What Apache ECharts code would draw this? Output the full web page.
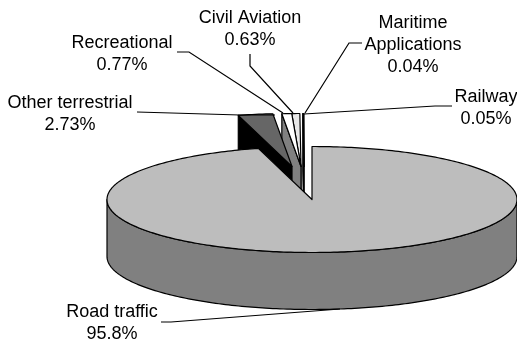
<!DOCTYPE html>
<html>
<head>
<meta charset="utf-8">
<style>html,body{margin:0;padding:0;background:#fff}#chart{width:517px;height:344px}</style>
<script src="https://cdn.jsdelivr.net/npm/echarts@6/dist/echarts.min.js"></script>
</head>
<body>
<div id="chart"></div>
<script>
// Share of satellite navigation use by application segment
const categories = ['Road traffic', 'Other terrestrial', 'Recreational', 'Civil Aviation', 'Maritime Applications', 'Railway'];
const shares = [95.8, 2.73, 0.77, 0.63, 0.04, 0.05];
const shareLabels = ['95.8%', '2.73%', '0.77%', '0.63%', '0.04%', '0.05%'];

// Tilted disc geometry
const disc = { cx: 312, cy: 199.5, rx: 205, ry: 53, depth: 57 };
// How far each slice is pulled out of the disc
const pullX = [0, -20, -11, -11, -8, -8];
const pullY = [0, -33, -33, -33, -33, -33];
const topColors = ['#bdbdbd', '#666666', '#ffffff', '#e8e8e8', '#ffffff', '#ffffff'];
const wallColors = ['#808080', '#000000', '#808080', '#808080', '#808080', '#808080'];
// Text lines, centre x, first line middle y, leader path
const labelLines = [['Road traffic'], ['Other terrestrial'], ['Recreational'], ['Civil Aviation'], ['Maritime', 'Applications'], ['Railway']];
const labelX = [112, 70, 122, 250, 413, 486];
const labelY = [312, 103, 43, 18, 23, 97];
const leaders = [
  [[161, 322], [171, 322], [340, 309]],
  [[137, 112], [240, 115], [275, 115]],
  [[177, 52], [189, 52], [283, 113]],
  [[250, 54], [250, 66], [293, 113]],
  [[362, 43], [349, 43], [305, 113]],
  [[452, 106], [435, 106], [304, 114]]
];
const LINE_HEIGHT = 22;
const FONT = '18px "Liberation Sans", Arial, sans-serif';
const STROKE = 1.2;

const total = shares.reduce((a, b) => a + b, 0);
const lineStyle = fill => ({ fill, stroke: '#000', lineWidth: STROKE, lineJoin: 'round' });

// Point on the disc rim, angle in degrees clockwise from twelve o'clock
function rim(deg, ox, oy, drop) {
  const a = deg * Math.PI / 180;
  return [disc.cx + ox + disc.rx * Math.sin(a), disc.cy + oy + drop - disc.ry * Math.cos(a)];
}
function arc(from, to, ox, oy, drop) {
  const n = Math.max(2, Math.ceil(Math.abs(to - from)));
  const pts = [];
  for (let i = 0; i <= n; i++) pts.push(rim(from + (to - from) * i / n, ox, oy, drop));
  return pts;
}

function renderSlice(params, api) {
  const i = api.value(0);
  const start = shares.slice(0, i).reduce((a, b) => a + b, 0) / total * 360;
  const end = start + shares[i] / total * 360;
  const ox = pullX[i], oy = pullY[i];
  const apex = [disc.cx + ox, disc.cy + oy];
  const base = i === 0 ? 20 : 10 - i;
  const children = [];

  if (i === 0) {
    // Front rim of the main slice
    const front = arc(90, 270, 0, 0, 0).concat(arc(270, 90, 0, 0, disc.depth));
    children.push({ type: 'polygon', z2: base, shape: { points: front }, style: lineStyle(wallColors[i]) });
  } else {
    // Cut face on the left-hand side of a pulled slice
    const o = rim(start, ox, oy, 0);
    const wall = [apex, o, [o[0], o[1] + disc.depth], [apex[0], apex[1] + disc.depth]];
    children.push({ type: 'polygon', z2: base, shape: { points: wall }, style: lineStyle(wallColors[i]) });
  }
  const top = [apex].concat(arc(start, end, ox, oy, 0));
  children.push({ type: 'polygon', z2: base + 0.5, shape: { points: top }, style: lineStyle(topColors[i]) });

  // Leader and text
  children.push({ type: 'polyline', z2: 30, shape: { points: leaders[i] }, style: { fill: null, stroke: '#000', lineWidth: STROKE } });
  labelLines[i].concat(shareLabels[i]).forEach((t, k) => {
    children.push({
      type: 'text', z2: 31,
      style: { text: t, x: labelX[i], y: labelY[i] + k * LINE_HEIGHT, font: FONT, fill: '#000', textAlign: 'center', textVerticalAlign: 'middle' }
    });
  });
  return { type: 'group', children };
}

const chart = echarts.init(document.getElementById('chart'), null, { renderer: 'canvas' });
chart.setOption({
  animation: false,
  backgroundColor: '#fff',
  series: [{
    type: 'custom',
    coordinateSystem: 'none',
    renderItem: renderSlice,
    data: categories.map((name, i) => ({ name, value: [i, shares[i]] }))
  }]
});
</script>
</body>
</html>
